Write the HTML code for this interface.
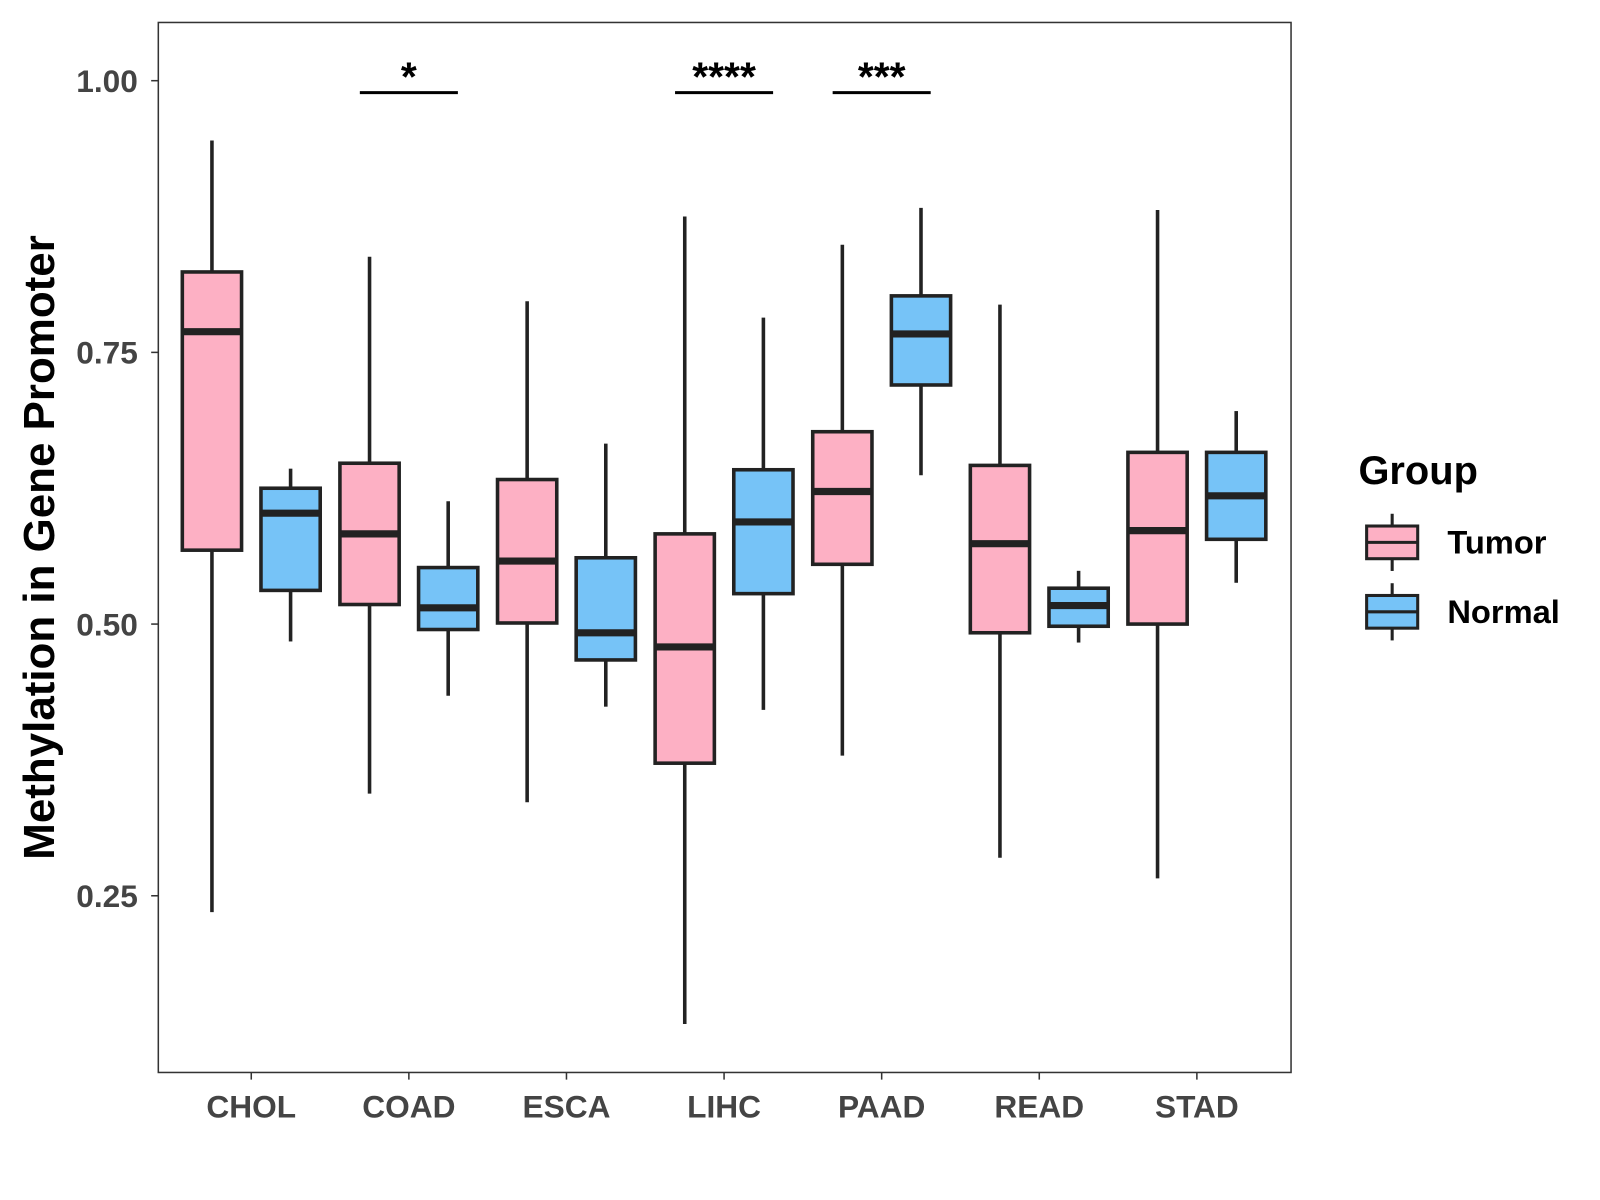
<!DOCTYPE html>
<html><head><meta charset="utf-8"><style>
html,body{margin:0;padding:0;background:#fff;}
svg{display:block;font-family:"Liberation Sans",Arial,sans-serif;}
</style></head><body>
<svg id="chart" width="1600" height="1200" viewBox="0 0 1600 1200">
<rect x="0" y="0" width="1600" height="1200" fill="#fff"/>
<g id="plot" transform="scale(1.0214)"></g>
</svg>
<script>
const categories=["CHOL","COAD","ESCA","LIHC","PAAD","READ","STAD"];
// [low, q1, median, q3, high]
const tumorStats=[[0.235,0.568,0.769,0.824,0.945],[0.344,0.518,0.583,0.648,0.838],[0.336,0.501,0.558,0.633,0.797],[0.132,0.372,0.479,0.583,0.875],[0.379,0.555,0.622,0.677,0.849],[0.285,0.492,0.574,0.646,0.794],[0.266,0.500,0.586,0.658,0.881]];
const normalStats=[[0.484,0.531,0.602,0.625,0.643],[0.434,0.495,0.515,0.552,0.613],[0.424,0.467,0.492,0.561,0.666],[0.421,0.528,0.594,0.642,0.782],[0.637,0.720,0.767,0.802,0.883],[0.483,0.498,0.517,0.533,0.549],[0.538,0.578,0.618,0.658,0.696]];
const yTicks=[0.25,0.50,0.75,1.00];
const yTickLabels=["0.25","0.50","0.75","1.00"];
const sigCats=["COAD","LIHC","PAAD"];
const sigLabels=["*","****","***"];
const sigLevel=0.989;

const NS="http://www.w3.org/2000/svg";
const g=document.getElementById('plot');
const L=155,R=1264,T=22,B=1050;
function y(v){return 79+(1-v)*1064;}
function x(i){return 246+i*154.3;}
function mk(t,a,p){const e=document.createElementNS(NS,t);for(const k in a)e.setAttribute(k,a[k]);(p||g).appendChild(e);return e;}

const frame=mk('rect',{x:L,y:T,width:R-L,height:B-T,fill:'none',stroke:'#333','stroke-width':1.5});



yTicks.forEach((v,i)=>{
  const tk=mk('line',{x1:L-7,x2:L,y1:y(v),y2:y(v),stroke:'#333','stroke-width':1.5});
  
  
  const t=mk('text',{x:L-20,y:y(v)+11,'text-anchor':'end','font-size':31,'font-weight':'bold',fill:'#444'});
  t.textContent=yTickLabels[i];
  
  
});
categories.forEach((c,i)=>{
  const tk=mk('line',{x1:x(i),x2:x(i),y1:B,y2:B+7,stroke:'#333','stroke-width':1.5});
  
  
  const t=mk('text',{x:x(i),y:B+44,'text-anchor':'middle','font-size':31,'font-weight':'bold',fill:'#444'});
  t.textContent=c;
  
  
});

function box(cx,s,fill,name){
  const bg=mk('g',{});
  
  
  const w=58;
  mk('line',{x1:cx,x2:cx,y1:y(s[4]),y2:y(s[3]),stroke:'#222','stroke-width':3.5},bg);
  mk('line',{x1:cx,x2:cx,y1:y(s[1]),y2:y(s[0]),stroke:'#222','stroke-width':3.5},bg);
  mk('rect',{x:cx-w/2,y:y(s[3]),width:w,height:y(s[1])-y(s[3]),fill:fill,stroke:'#222','stroke-width':3.5},bg);
  mk('line',{x1:cx-w/2,x2:cx+w/2,y1:y(s[2]),y2:y(s[2]),stroke:'#222','stroke-width':7},bg);
}
categories.forEach((c,i)=>{
  box(x(i)-38.5,tumorStats[i],'#FDB0C4','box-tumor-'+c.toLowerCase());
  box(x(i)+38.5,normalStats[i],'#76C3F7','box-normal-'+c.toLowerCase());
});
sigCats.forEach((c,k)=>{
  const i=categories.indexOf(c);
  const l=mk('line',{x1:x(i)-48,x2:x(i)+48,y1:y(sigLevel),y2:y(sigLevel),stroke:'#000','stroke-width':3});
  
  
  const t=mk('text',{x:x(i),y:y(sigLevel)-2,'text-anchor':'middle','font-size':40,'font-weight':'bold',fill:'#000'});
  t.textContent=sigLabels[k];
  
  
});

const yt=mk('text',{x:0,y:0,transform:'translate(53,536) rotate(-90)','text-anchor':'middle','font-size':43,'font-weight':'bold',fill:'#000'});
yt.textContent='Methylation in Gene Promoter';



const lg=mk('g',{});


const lt=mk('text',{x:1330,y:474,'font-size':39,'font-weight':'bold',fill:'#000'},lg);
lt.textContent='Group';


[['Tumor','#FDB0C4',531],['Normal','#76C3F7',599]].forEach(([n,f,cy])=>{
  const e=mk('g',{},lg);
  
  
  mk('line',{x1:1363,x2:1363,y1:cy-28,y2:cy+28,stroke:'#222','stroke-width':3},e);
  mk('rect',{x:1338,y:cy-16,width:50,height:32,fill:f,stroke:'#222','stroke-width':3},e);
  mk('line',{x1:1338,x2:1388,y1:cy,y2:cy,stroke:'#222','stroke-width':3},e);
  const t=mk('text',{x:1417,y:cy+11,'font-size':32,'font-weight':'bold',fill:'#000'},e);
  t.textContent=n;
});
</script>
</body></html>
